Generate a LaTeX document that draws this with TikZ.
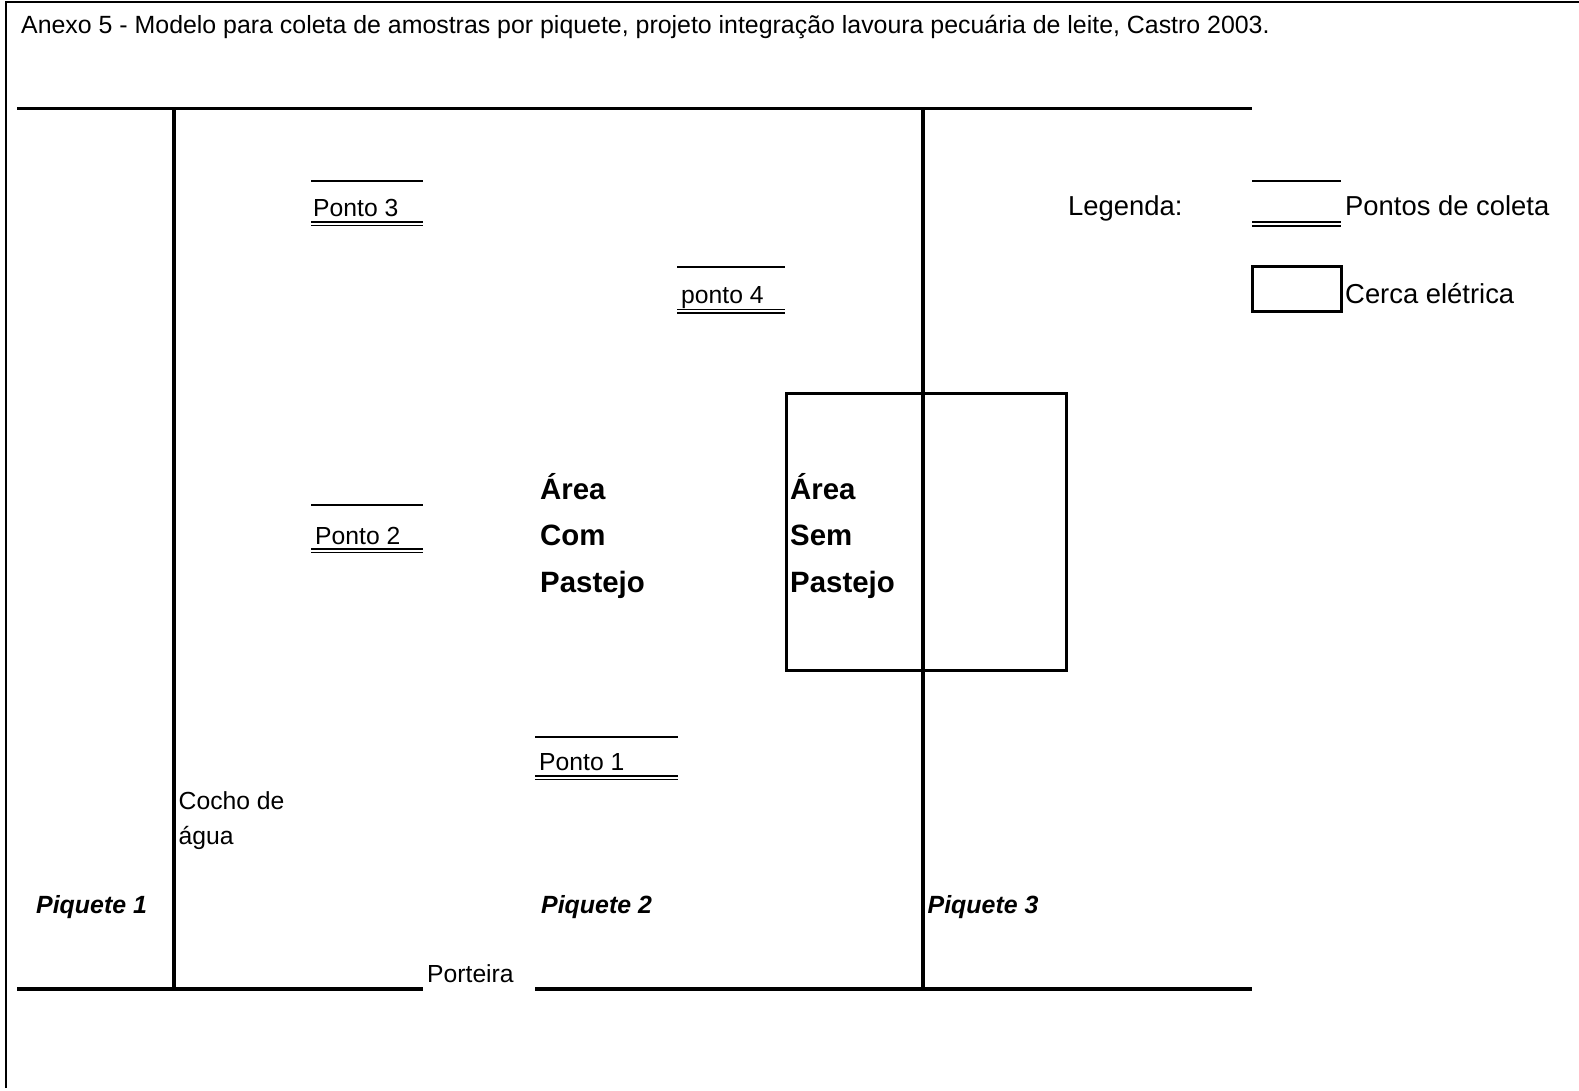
\documentclass[tikz,border=0pt]{standalone}
\usepackage{fontspec}
\setmainfont{Liberation Sans}
\begin{document}
\begin{tikzpicture}[x=1pt,y=-1pt,
  txt/.style={anchor=base west, inner sep=0pt, font=\fontsize{24.7}{30}\selectfont},
  ttl/.style={anchor=base west, inner sep=0pt, font=\fontsize{24.9}{30}\selectfont},
  leg/.style={anchor=base west, inner sep=0pt, font=\fontsize{27.4}{33}\selectfont},
  area/.style={anchor=base west, inner sep=0pt, font=\fontsize{29.4}{35}\selectfont\bfseries},
  piq/.style={anchor=base west, inner sep=0pt, font=\fontsize{24.9}{30}\selectfont\bfseries\itshape},
  wall/.style={line width=3.2pt},
  framel/.style={line width=2pt},
  ptline/.style={line width=1.8pt},
  fence/.style={line width=3pt}]
\fill[white] (0,0) rectangle (1579,1091);
\useasboundingbox (0,0) rectangle (1579,1091);
% outer frame (top and left)
\draw[framel] (5.5,1088) -- (5.5,2) -- (1579,2);
% title
\node[ttl] (title) at (21,33.5) {Anexo 5 - Modelo para coleta de amostras por piquete, projeto integração lavoura pecuária de leite, Castro 2003.};
% paddock walls
\coordinate (tl) at (17,108.5);
\coordinate (tr) at (1252,108.5);
\draw[wall] (tl) -- (tr);
\coordinate (bl) at (17,989);
\coordinate (bg1) at (422.5,989);
\coordinate (bg2) at (535,989);
\coordinate (br) at (1252,989);
\draw[wall] (bl) -- (bg1);
\draw[wall] (bg2) -- (br);
\coordinate (v1t) at (174,108.5);
\coordinate (v1b) at (174,989);
\draw[wall] (v1t) -- (v1b);
\coordinate (v2t) at (923,108.5);
\coordinate (v2b) at (923,989);
\draw[wall] (v2t) -- (v2b);
% electric fence
\draw[fence] (786,393) rectangle (1066,670);
% sampling points
% Ponto 3
\draw[ptline] (311,181) -- (423,181);
\node[txt] (p3) at (313,216.5) {Ponto 3};
\draw[ptline] (311,222) -- (423,222);
\draw[ptline] (311,225.5) -- (423,225.5);
% ponto 4
\draw[ptline] (677,267) -- (785,267);
\node[txt] (p4) at (681,303.5) {ponto 4};
\draw[ptline] (677,309.5) -- (785,309.5);
\draw[ptline] (677,313) -- (785,313);
% Ponto 2
\draw[ptline] (311,505) -- (423,505);
\node[txt] (p2) at (315,544) {Ponto 2};
\draw[ptline] (311,549) -- (423,549);
\draw[ptline] (311,552.5) -- (423,552.5);
% Ponto 1
\draw[ptline] (535,737) -- (678,737);
\node[txt] (p1) at (539,770) {Ponto 1};
\draw[ptline] (535,776) -- (678,776);
\draw[ptline] (535,779.5) -- (678,779.5);
% area labels
\node[area] (a1) at (540,499) {Área};
\node[area] (a2) at (540,545) {Com};
\node[area] (a3) at (540,592) {Pastejo};
\node[area] (b1) at (790,499) {Área};
\node[area] (b2) at (790,545) {Sem};
\node[area] (b3) at (790,592) {Pastejo};
% other labels
\node[txt] (cocho1) at (178.5,809.5) {Cocho de};
\node[txt] (cocho2) at (178.5,844) {água};
\node[txt] (port) at (427,982.5) {Porteira};
\node[piq] (q1) at (36,913) {Piquete 1};
\node[piq] (q2) at (541,913) {Piquete 2};
\node[piq] (q3) at (927.5,913) {Piquete 3};
% legend
\node[leg] (legt) at (1068,215.5) {Legenda:};
\draw[ptline] (1252,181) -- (1341,181);
\draw[ptline] (1252,222.3) -- (1341,222.3);
\draw[ptline] (1252,226) -- (1341,226);
\node[leg] (legp) at (1345,215.5) {Pontos de coleta};
\draw[fence] (1252,267) rectangle (1341,311);
\node[leg] (legc) at (1345,304) {Cerca elétrica};
\end{tikzpicture}
\end{document}
